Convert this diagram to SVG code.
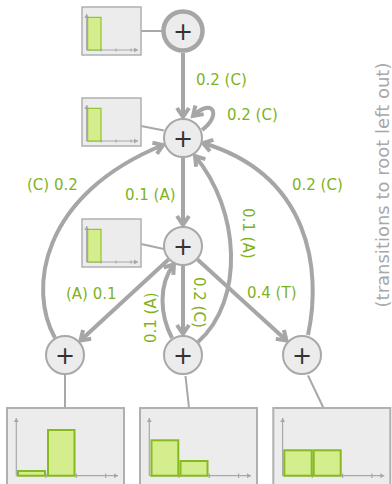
<svg xmlns="http://www.w3.org/2000/svg" width="392" height="484" viewBox="0 0 392 484">
  <style>
    .edge { fill: none; stroke: #a6a6a6; stroke-width: 4; marker-end: url(#chev); }
    .link { fill: none; stroke: #a8a8a8; stroke-width: 2; }
    .node circle { fill: #ececec; stroke: #a8a8a8; stroke-width: 2; }
    .node.root circle { stroke: #a6a6a6; stroke-width: 4.5; }
    .plus { font-family: "DejaVu Sans", sans-serif; font-size: 24px; fill: #333; text-anchor: middle; }
    .lbl { font-family: "DejaVu Sans", sans-serif; font-size: 15px; fill: #7fb21e; }
    .note { font-family: "DejaVu Sans", sans-serif; font-size: 18px; fill: #a8a8a8; text-anchor: middle; }
    .box { fill: #ececec; stroke: #b0b0b0; }
    .axis { fill: none; stroke: #a8a8a8; stroke-width: 1.2; }
    .bar { fill: #d4ee8e; stroke: #86ba1f; }
  </style>
  <defs>
    <marker id="chev" viewBox="-12 -8 14 16" markerWidth="14" markerHeight="16" refX="0" refY="0" orient="auto" markerUnits="userSpaceOnUse" overflow="visible">
      <path d="M-9,-6 L0,0 L-9,6" fill="none" stroke="#a6a6a6" stroke-width="4" stroke-linejoin="miter"/>
    </marker>
    <marker id="tip" viewBox="-4 -3 5 6" markerWidth="5" markerHeight="6" refX="0" refY="0" orient="auto" markerUnits="userSpaceOnUse">
      <path d="M-4,-2.5 L0,0 L-4,2.5 Z" fill="#a8a8a8"/>
    </marker>
    <!-- small histogram panel: 59 x 48 -->
    <g id="smallAxes">
      <rect class="box" x="0" y="0" width="59" height="48" stroke-width="1.5"/>
      <path class="axis" d="M4.7,43 V7" marker-end="url(#tip)"/>
      <path class="axis" d="M4.7,43 H56" marker-end="url(#tip)"/>
      <path class="axis" d="M19,41.5 V44.5 M34,41.5 V44.5 M49,41.5 V44.5"/>
    </g>
    <!-- large histogram panel: 117 x 85 -->
    <g id="bigAxes">
      <rect class="box" x="0" y="0" width="117" height="85" stroke-width="2"/>
      <path class="axis" d="M9.3,67.7 V10" marker-end="url(#tip)" stroke-width="2"/>
      <path class="axis" d="M9.3,67.7 H111" marker-end="url(#tip)" stroke-width="2"/>
      <path class="axis" d="M39,65.5 V70 M69.3,65.5 V70 M98.6,65.5 V70" stroke-width="1.5"/>
    </g>
  </defs>

  <!-- side note -->
  <text class="note" transform="translate(389,185) rotate(-90)">(transitions to root left out)</text>

  <!-- node-to-histogram links -->
  <g id="links">
    <path class="link" d="M141,31 H163"/>
    <path class="link" d="M141,126 L164,130.5"/>
    <path class="link" d="M141,244 L164,249"/>
    <path class="link" d="M65,374 V408"/>
    <path class="link" d="M185.5,376 L189,408"/>
    <path class="link" d="M308,375.5 L323.5,408"/>
  </g>

  <!-- transitions -->
  <g id="edges">
    <path class="edge" d="M183,53 V117"/>
    <path class="edge" d="M202,130 C222,115 213,97 193,116"/>
    <path class="edge" d="M183,158 V225"/>
    <path class="edge" d="M168.5,259.5 L80.5,340.5"/>
    <path class="edge" d="M183,266 V334"/>
    <path class="edge" d="M197.5,259.5 L286.5,340.5"/>
    <path class="edge" d="M55,338 C28,290 40,195 163,145"/>
    <path class="edge" d="M172,338 C160,315 158,285 174,264"/>
    <path class="edge" d="M198,342 C245,300 240,210 195,156"/>
    <path class="edge" d="M308,335 C322,270 310,175 203,143"/>
  </g>

  <!-- transition labels -->
  <g id="labels">
    <text class="lbl" x="196" y="85">0.2 (C)</text>
    <text class="lbl" x="227" y="119.5">0.2 (C)</text>
    <text class="lbl" x="27" y="190">(C) 0.2</text>
    <text class="lbl" x="125" y="200">0.1 (A)</text>
    <text class="lbl" x="292" y="190">0.2 (C)</text>
    <text class="lbl" transform="translate(243,208) rotate(90)">0.1 (A)</text>
    <text class="lbl" transform="translate(193.5,277) rotate(90)">0.2 (C)</text>
    <text class="lbl" transform="translate(156,343) rotate(-90)">0.1 (A)</text>
    <text class="lbl" x="247" y="297.5">0.4 (T)</text>
    <text class="lbl" x="66" y="299">(A) 0.1</text>
  </g>

  <!-- histograms -->
  <g id="hist-root" transform="translate(82,7)">
    <use href="#smallAxes"/>
    <rect class="bar" x="5.7" y="10.3" width="13.3" height="32.7" stroke-width="1"/>
  </g>
  <g id="hist-n1" transform="translate(82,98)">
    <use href="#smallAxes"/>
    <rect class="bar" x="5.7" y="10.3" width="13.3" height="32.7" stroke-width="1"/>
  </g>
  <g id="hist-n2" transform="translate(82,219)">
    <use href="#smallAxes"/>
    <rect class="bar" x="5.7" y="10.3" width="13.3" height="32.7" stroke-width="1"/>
  </g>
  <g id="hist-leaf1" transform="translate(7,408)">
    <use href="#bigAxes"/>
    <rect class="bar" x="11" y="63" width="27" height="4.7" stroke-width="2"/>
    <rect class="bar" x="41" y="22" width="26.5" height="45.7" stroke-width="2"/>
  </g>
  <g id="hist-leaf2" transform="translate(140,408)">
    <use href="#bigAxes"/>
    <rect class="bar" x="11.5" y="32.3" width="26.8" height="35.4" stroke-width="2"/>
    <rect class="bar" x="40.5" y="53" width="27" height="14.7" stroke-width="2"/>
  </g>
  <g id="hist-leaf3" transform="translate(273.3,408)">
    <use href="#bigAxes"/>
    <rect class="bar" x="11" y="42.3" width="27.4" height="25.4" stroke-width="2"/>
    <rect class="bar" x="40.4" y="42.3" width="27" height="25.4" stroke-width="2"/>
  </g>

  <!-- nodes -->
  <g id="root" class="node root">
    <circle cx="183" cy="31" r="19.5"/>
    <text class="plus" x="183" y="39.5">+</text>
  </g>
  <g id="n1" class="node">
    <circle cx="183" cy="138" r="19"/>
    <text class="plus" x="183" y="146.5">+</text>
  </g>
  <g id="n2" class="node">
    <circle cx="183" cy="246" r="19"/>
    <text class="plus" x="183" y="254.5">+</text>
  </g>
  <g id="leaf1" class="node">
    <circle cx="65" cy="355" r="19"/>
    <text class="plus" x="65" y="363.5">+</text>
  </g>
  <g id="leaf2" class="node">
    <circle cx="183" cy="355" r="19"/>
    <text class="plus" x="183" y="363.5">+</text>
  </g>
  <g id="leaf3" class="node">
    <circle cx="302" cy="355" r="19"/>
    <text class="plus" x="302" y="363.5">+</text>
  </g>
</svg>
